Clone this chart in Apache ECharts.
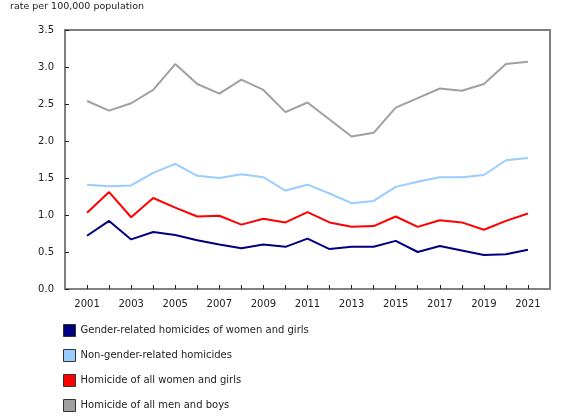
<!DOCTYPE html>
<html>
<head>
<meta charset="utf-8">
<script src="https://cdn.jsdelivr.net/npm/echarts@6/dist/echarts.min.js"></script>
<style>
  html, body { margin: 0; padding: 0; background: #fff; }
  #chart { width: 580px; height: 420px; }
</style>
</head>
<body>
<div id="chart"></div>
<script>
const years = [2001, 2002, 2003, 2004, 2005, 2006, 2007, 2008, 2009, 2010, 2011,
  2012, 2013, 2014, 2015, 2016, 2017, 2018, 2019, 2020, 2021];

const genderRelated = [0.72, 0.92, 0.67, 0.77, 0.73, 0.66, 0.60, 0.55, 0.60, 0.57, 0.68,
  0.54, 0.57, 0.57, 0.65, 0.50, 0.58, 0.52, 0.46, 0.47, 0.53];
const nonGenderRelated = [1.41, 1.39, 1.40, 1.57, 1.69, 1.53, 1.50, 1.55, 1.51, 1.33, 1.41,
  1.29, 1.16, 1.19, 1.38, 1.45, 1.51, 1.51, 1.54, 1.74, 1.77];
const womenGirls = [1.03, 1.31, 0.97, 1.23, 1.10, 0.98, 0.99, 0.87, 0.95, 0.90, 1.04,
  0.90, 0.84, 0.85, 0.98, 0.84, 0.93, 0.90, 0.80, 0.92, 1.02];
const menBoys = [2.54, 2.41, 2.51, 2.69, 3.04, 2.77, 2.64, 2.83, 2.69, 2.39, 2.52,
  2.29, 2.06, 2.11, 2.45, 2.58, 2.71, 2.68, 2.77, 3.04, 3.07];

const seriesNames = [
  'Gender-related homicides of women and girls',
  'Non-gender-related homicides',
  'Homicide of all women and girls',
  'Homicide of all men and boys'
];
const seriesColors = ['#000080', '#99ccff', '#ff0000', '#a0a0a0'];
const seriesData = [genderRelated, nonGenderRelated, womenGirls, menBoys];

const font = 'DejaVu Sans, Verdana, sans-serif';
const chart = echarts.init(document.getElementById('chart'));

const option = {
  animation: false,
  title: {
    text: 'rate per 100,000 population',
    left: 10,
    top: 2,
    padding: 0,
    textStyle: { fontSize: 9.5, fontWeight: 'normal', color: '#222', fontFamily: font }
  },
  grid: {
    left: 65,
    right: 30,
    top: 30,
    bottom: 131,
    show: true,
    borderColor: '#808080',
    borderWidth: 2,
    containLabel: false
  },
  legend: {
    orient: 'vertical',
    left: 63,
    top: 324,
    padding: 0,
    itemGap: 12,
    itemWidth: 12,
    itemHeight: 12,
    icon: 'rect',
    itemStyle: { borderColor: '#333', borderWidth: 1 },
    textStyle: { fontSize: 10, lineHeight: 12, color: '#222', fontFamily: font },
    data: seriesNames
  },
  xAxis: {
    type: 'value',
    min: 2000,
    max: 2022,
    interval: 1,
    splitLine: { show: false },
    axisLine: { show: true, lineStyle: { color: '#808080', width: 2 } },
    axisTick: {
      show: true,
      inside: true,
      length: 4,
      lineStyle: { color: '#222', width: 1 }
    },
    axisLabel: {
      margin: 10,
      fontSize: 10,
      color: '#222',
      fontFamily: font,
      showMinLabel: false,
      showMaxLabel: false,
      formatter: function (v) {
        return (v >= 2001 && v <= 2021 && v % 2 === 1) ? String(v) : '';
      }
    }
  },
  yAxis: {
    type: 'value',
    min: 0,
    max: 3.5,
    interval: 0.5,
    splitLine: { show: false },
    axisLine: { show: true, lineStyle: { color: '#808080', width: 2 } },
    axisTick: {
      show: true,
      inside: true,
      length: 4,
      lineStyle: { color: '#222', width: 1 }
    },
    axisLabel: {
      margin: 11,
      fontSize: 10,
      color: '#222',
      fontFamily: font,
      formatter: function (v) { return v.toFixed(1); }
    }
  },
  series: seriesNames.map(function (name, i) {
    return {
      name: name,
      type: 'line',
      symbol: 'none',
      z: 2 + (3 - i),
      data: years.map(function (y, j) { return [y, seriesData[i][j]]; }),
      lineStyle: { color: seriesColors[i], width: 2 },
      itemStyle: { color: seriesColors[i] }
    };
  })
};

chart.setOption(option);
</script>
</body>
</html>
